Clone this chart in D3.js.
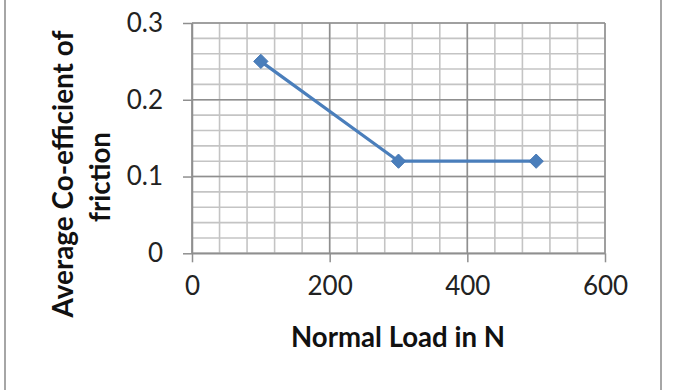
<!DOCTYPE html>
<html>
<head>
<meta charset="utf-8">
<script src="https://cdn.jsdelivr.net/npm/d3@7"></script>
<style>
  body { margin: 0; background: #fff; }
  svg { display: block; font-family: Lato, "Open Sans", sans-serif; }
</style>
</head>
<body>
<svg id="viz" width="677" height="390"></svg>
<script>
// data
const loads = [100, 300, 500];
const friction = [0.25, 0.12, 0.12];
const xTicks = [0, 200, 400, 600];
const yTicks = [0, 0.1, 0.2, 0.3];
const xTickLabels = ["0", "200", "400", "600"];
const yTickLabels = ["0", "0.1", "0.2", "0.3"];
const xMinorStep = 40;
const yMinorStep = 0.02;

const blue = "#4a7ebb";
const majorGrid = "#8f8f8f";
const minorGrid = "#c4c4c4";

let svg = d3.select("#viz");
let width = parseInt(svg.attr("width"));
let height = parseInt(svg.attr("height"));

// outer chart frame (only the side edges show in the picture)
svg.append("line").attr("x1", 5).attr("x2", 5).attr("y1", 0).attr("y2", height)
    .style("stroke", "#a6a6a6").style("stroke-width", 2);
svg.append("line").attr("x1", 661).attr("x2", 661).attr("y1", 0).attr("y2", height)
    .style("stroke", "#a6a6a6").style("stroke-width", 2);

let x = d3.scaleLinear().domain([0, 600]).range([192, 605]);
let y = d3.scaleLinear().domain([0, 0.3]).range([253.3, 23]);

let plot = svg.append("g").attr("id", "plot");

// minor grid
let xMinor = d3.range(0, 600 + 1e-9, xMinorStep);
let yMinor = d3.range(0, 0.3 + 1e-9, yMinorStep);

plot.selectAll(".vminor").data(xMinor).join("line")
    .attr("x1", d => x(d)).attr("x2", d => x(d))
    .attr("y1", y(0)).attr("y2", y(0.3))
    .style("stroke", minorGrid).style("stroke-width", 1.6);
plot.selectAll(".hminor").data(yMinor).join("line")
    .attr("x1", x(0)).attr("x2", x(600))
    .attr("y1", d => y(d)).attr("y2", d => y(d))
    .style("stroke", minorGrid).style("stroke-width", 1.6);

// major grid
plot.selectAll(".vmajor").data(xTicks).join("line")
    .attr("x1", d => x(d)).attr("x2", d => x(d))
    .attr("y1", y(0)).attr("y2", y(0.3))
    .style("stroke", majorGrid).style("stroke-width", 1.5);
plot.selectAll(".hmajor").data(yTicks).join("line")
    .attr("x1", x(0)).attr("x2", x(600))
    .attr("y1", d => y(d)).attr("y2", d => y(d))
    .style("stroke", majorGrid).style("stroke-width", 1.5);

// axes with outward ticks
let xAxis = d3.axisBottom(x).tickValues(xTicks).tickSize(9).tickSizeOuter(0)
    .tickFormat((d, i) => xTickLabels[i]).tickPadding(14);
let yAxis = d3.axisLeft(y).tickValues(yTicks).tickSize(9).tickSizeOuter(0)
    .tickFormat((d, i) => yTickLabels[i]).tickPadding(20);

let gx = svg.append("g").attr("transform", "translate(0," + y(0) + ")").call(xAxis);
let gy = svg.append("g").attr("transform", "translate(" + x(0) + ",0)").call(yAxis);

[gx, gy].forEach(g => {
    g.select(".domain").style("stroke", majorGrid).style("stroke-width", 1.5);
    g.selectAll(".tick line").style("stroke", majorGrid).style("stroke-width", 1.5);
    g.selectAll(".tick text")
        .style("font-family", "Lato, 'Open Sans', sans-serif")
        .style("font-size", "26px")
        .style("fill", "#222");
});
gx.selectAll(".tick text").attr("dy", "0.71em");

// series
let pts = loads.map((d, i) => [d, friction[i]]);
svg.append("path")
    .datum(pts)
    .attr("d", d3.line().x(d => x(d[0])).y(d => y(d[1])))
    .style("fill", "none")
    .style("stroke", blue)
    .style("stroke-width", 3.2);

svg.selectAll(".marker").data(pts).join("path")
    .attr("d", d3.symbol().type(d3.symbolDiamond2).size(130))
    .attr("transform", d => "translate(" + x(d[0]) + "," + y(d[1]) + ")")
    .style("fill", blue)
    .style("stroke", "#4677b4")
    .style("stroke-width", 1);

// titles, sized to the widths seen in the picture
function fit(sel, target) {
    let w = sel.node().getComputedTextLength();
    let fs = parseFloat(sel.style("font-size"));
    sel.style("font-size", (fs * target / w) + "px");
}

let xt = svg.append("text")
    .attr("x", 398).attr("y", 346.5)
    .attr("text-anchor", "middle")
    .style("font-weight", "bold").style("font-size", "26px").style("fill", "#111")
    .text("Normal Load in N");
fit(xt, 214);

let yt1 = svg.append("text")
    .attr("transform", "translate(73,174) rotate(-90)")
    .attr("text-anchor", "middle")
    .style("font-weight", "bold").style("font-size", "26px").style("fill", "#111")
    .text("Average Co-efficient of");
fit(yt1, 287);

let yt2 = svg.append("text")
    .attr("transform", "translate(110,177) rotate(-90)")
    .attr("text-anchor", "middle")
    .style("font-weight", "bold").style("font-size", "26px").style("fill", "#111")
    .text("friction");
fit(yt2, 90);
</script>
</body>
</html>
